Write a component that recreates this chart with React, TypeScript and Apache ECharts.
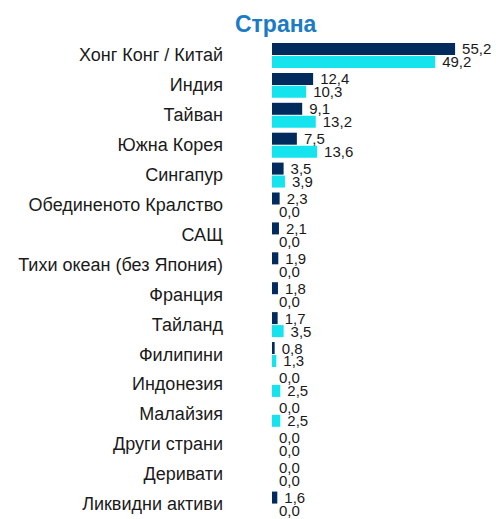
import React, { useEffect, useRef } from "react";
import * as echarts from "echarts";

const categories = [
  "Хонг Конг / Китай",
  "Индия",
  "Тайван",
  "Южна Корея",
  "Сингапур",
  "Обединеното Кралство",
  "САЩ",
  "Тихи океан (без Япония)",
  "Франция",
  "Тайланд",
  "Филипини",
  "Индонезия",
  "Малайзия",
  "Други страни",
  "Деривати",
  "Ликвидни активи",
];

const seriesDark = [55.2, 12.4, 9.1, 7.5, 3.5, 2.3, 2.1, 1.9, 1.8, 1.7, 0.8, 0.0, 0.0, 0.0, 0.0, 1.6];
const seriesLight = [49.2, 10.3, 13.2, 13.6, 3.9, 0.0, 0.0, 0.0, 0.0, 3.5, 1.3, 2.5, 2.5, 0.0, 0.0, 0.0];

const titleText = "Страна";

const FONT = "'Liberation Sans', Arial, sans-serif";

const fmt = (v: number) => v.toFixed(1).replace(".", ",");

export default function App() {
  const ref = useRef<HTMLDivElement>(null);
  useEffect(() => {
    if (!ref.current) return;
    const chart = echarts.init(ref.current, undefined, { renderer: "svg" });
    const labelCfg = {
      show: true,
      position: "right" as const,
      distance: 7,
      fontSize: 15,
      fontFamily: FONT,
      color: "#1a1a1a",
      formatter: (p: any) => fmt(p.value),
    };
    chart.setOption({
      animation: false,
      title: {
        text: titleText,
        left: 230,
        top: 7,
        textStyle: { fontSize: 23, fontWeight: "bold", color: "#1B7BC4", fontFamily: FONT },
      },
      grid: { left: 272, width: 199, top: 40.5, height: 480 },
      xAxis: { type: "value", min: 0, max: 60, show: false },
      yAxis: {
        type: "category",
        data: categories,
        inverse: true,
        axisLine: { show: false },
        axisTick: { show: false },
        splitLine: { show: false },
        axisLabel: { margin: 49, fontSize: 18, color: "#1a1a1a", fontFamily: FONT },
      },
      series: [
        {
          type: "bar",
          data: seriesDark,
          barWidth: 12,
          barGap: "8%",
          itemStyle: { color: "#002B5C" },
          label: labelCfg,
        },
        {
          type: "bar",
          data: seriesLight,
          barWidth: 12,
          barGap: "8%",
          itemStyle: { color: "#15E4EE" },
          label: labelCfg,
        },
      ],
    });
    return () => chart.dispose();
  }, []);
  return (
    <div
      ref={ref}
      style={{ position: "fixed", left: 0, top: 0, width: 496, height: 519, background: "#fff" }}
    />
  );
}
